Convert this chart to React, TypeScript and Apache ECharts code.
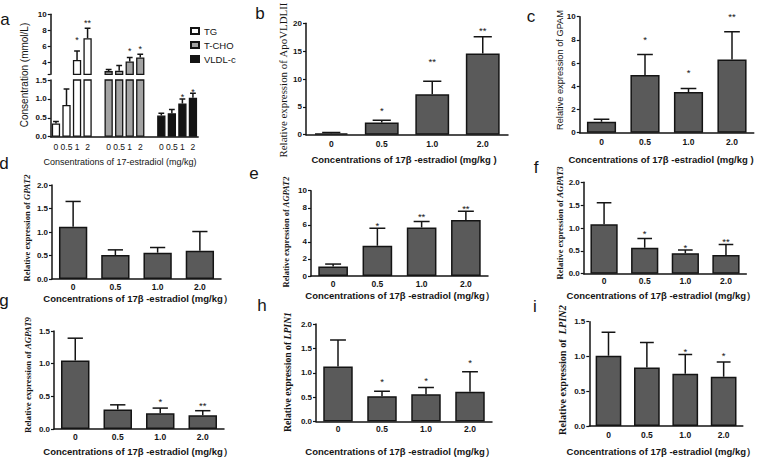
import React, { useEffect, useRef } from "react";
import * as echarts from "echarts";

const SANS = "'Liberation Sans', Arial, Helvetica, sans-serif";
const SERIF = "'Liberation Serif', 'Times New Roman', serif";
const INK = "#141414";
const BAR_GRAY = "#5a5a5a";

// ---------- panel a : serum lipids ----------
const aGroupNames = ["TG", "T-CHO", "VLDL-c"];
const aDoseLabels = ["0", "0.5", "1", "2"];
const tgMean = [0.35, 0.84, 4.3, 7.0];
const tgErr = [0.4, 1.26, 5.4, 8.25];
const tgStarAt = [null, null, 7.1, 9.2];
const tgSig = ["", "", "*", "**"];
const tchoMean = [2.9, 2.95, 4.1, 4.6];
const tchoErr = [3.1, 3.6, 4.6, 5.0];
const tchoStarAt = [null, null, 5.75, 5.95];
const tchoSig = ["", "", "*", "*"];
const vldlMean = [0.56, 0.62, 0.88, 1.03];
const vldlErr = [0.62, 0.72, 1.0, 1.15];
const vldlStarAt = [null, null, 1.12, 1.26];
const vldlSig = ["", "", "*", "*"];
const aTopLabels = [4, 6, 8, 10];
const aTopTicks = [2.5, 4, 6, 8, 10];
const aBottomLabels = [0, 0.5, 1.0, 1.5];
const aXTitle = "Consentrations of 17-estradiol (mg/kg)";
const aYTitle = "Consentration (mmol/L)";

// ---------- panels b-i : relative expression ----------
const doses = ["0", "0.5", "1.0", "2.0"];
const apoMean = [0.25, 2.2, 7.25, 14.6];
const apoErr = [0.4, 2.6, 9.6, 17.6];
const apoStarAt = [null, 4.8, 13.6, 19.3];
const apoSig = ["", "*", "**", "**"];
const gpamMean = [0.95, 4.97, 3.5, 6.32];
const gpamErr = [1.15, 6.75, 3.8, 8.7];
const gpamStarAt = [null, 8.3, 5.4, 10.3];
const gpamSig = ["", "*", "*", "**"];
const gpat2Mean = [1.11, 0.51, 0.56, 0.6];
const gpat2Err = [1.65, 0.62, 0.67, 1.01];
const gpat2StarAt = [null, null, null, null];
const gpat2Sig = ["", "", "", ""];
const agpat2Mean = [1.1, 3.55, 5.7, 6.56];
const agpat2Err = [1.4, 5.6, 6.4, 7.6];
const agpat2StarAt = [null, 6.25, 7.34, 8.3];
const agpat2Sig = ["", "*", "**", "**"];
const agpat3Mean = [1.08, 0.57, 0.45, 0.41];
const agpat3Err = [1.55, 0.77, 0.52, 0.64];
const agpat3StarAt = [null, 0.94, 0.63, 0.77];
const agpat3Sig = ["", "*", "*", "**"];
const agpat9Mean = [1.05, 0.3, 0.24, 0.21];
const agpat9Err = [1.39, 0.37, 0.32, 0.28];
const agpat9StarAt = [null, null, 0.46, 0.4];
const agpat9Sig = ["", "", "*", "**"];
const lpin1Mean = [1.13, 0.52, 0.56, 0.61];
const lpin1Err = [1.67, 0.62, 0.7, 1.02];
const lpin1StarAt = [null, 0.88, 0.9, 1.26];
const lpin1Sig = ["", "*", "*", "*"];
const lpin2Mean = [1.01, 0.84, 0.75, 0.71];
const lpin2Err = [1.35, 1.2, 1.03, 0.92];
const lpin2StarAt = [null, null, 1.11, 1.05];
const lpin2Sig = ["", "", "*", "*"];

const xTitleSpace = "Concentrations of 17β -estradiol (mg/kg )";
const xTitleWide = "Concentrations of 17β -estradiol (mg/kg）";

type Panel = {
  letter: string; mean: number[]; err: number[]; starAt: (number | null)[]; sig: string[];
  max: number; interval: number; dec: number; xTitle: string;
  yPrefix: string; gene: string; geneItalic: boolean; yFont: string; yBold: boolean; yLen: number;
  left: number; top: number; width: number; height: number;
  labelMargin: number; nameGap: number; dx: number;
  tx: number; ty: number; lx: number; ly: number;
};

const panels: Panel[] = [
  { letter: "b", mean: apoMean, err: apoErr, starAt: apoStarAt, sig: apoSig, max: 20, interval: 5, dec: 0, xTitle: xTitleSpace,
    yPrefix: "Relative expression of ", gene: "ApoVLDLII", geneItalic: false, yFont: SERIF, yBold: false, yLen: 155,
    left: 306, top: 23.3, width: 202, height: 111.4, labelMargin: 4.5, nameGap: 19.5, dx: -3, tx: 283, ty: 80, lx: 260, ly: 13 },
  { letter: "c", mean: gpamMean, err: gpamErr, starAt: gpamStarAt, sig: gpamSig, max: 10, interval: 2, dec: 0, xTitle: xTitleSpace,
    yPrefix: "Relative expression of ", gene: "GPAM", geneItalic: false, yFont: SANS, yBold: false, yLen: 120,
    left: 579.75, top: 16.7, width: 174, height: 116, labelMargin: 5, nameGap: 21.5, dx: -5.75, tx: 560, ty: 70, lx: 531, ly: 16 },
  { letter: "d", mean: gpat2Mean, err: gpat2Err, starAt: gpat2StarAt, sig: gpat2Sig, max: 2, interval: 0.5, dec: 1, xTitle: xTitleWide,
    yPrefix: "Relative expression of ", gene: "GPAT2", geneItalic: true, yFont: SERIF, yBold: true, yLen: 107,
    left: 52, top: 185, width: 169, height: 94, labelMargin: 3.5, nameGap: 14.5, dx: 1.5, tx: 27, ty: 228, lx: 4, ly: 163 },
  { letter: "e", mean: agpat2Mean, err: agpat2Err, starAt: agpat2StarAt, sig: agpat2Sig, max: 10, interval: 2, dec: 0, xTitle: xTitleWide,
    yPrefix: "Relative expression of ", gene: "AGPAT2", geneItalic: true, yFont: SERIF, yBold: true, yLen: 111,
    left: 311, top: 190.7, width: 177, height: 85.3, labelMargin: 3, nameGap: 14.5, dx: 0.5, tx: 286, ty: 232, lx: 254, ly: 173 },
  { letter: "f", mean: agpat3Mean, err: agpat3Err, starAt: agpat3StarAt, sig: agpat3Sig, max: 2, interval: 0.5, dec: 1, xTitle: xTitleWide,
    yPrefix: "Relative expression of ", gene: "AGPAT3", geneItalic: true, yFont: SERIF, yBold: true, yLen: 113,
    left: 583.75, top: 182.3, width: 170, height: 91.4, labelMargin: 3, nameGap: 17, dx: -3.75, tx: 560, ty: 223, lx: 536, ly: 167 },
  { letter: "g", mean: agpat9Mean, err: agpat9Err, starAt: agpat9StarAt, sig: agpat9Sig, max: 1.5, interval: 0.5, dec: 1, xTitle: xTitleWide,
    yPrefix: "Relative expression of ", gene: "AGPAT9", geneItalic: true, yFont: SERIF, yBold: true, yLen: 116,
    left: 54, top: 331, width: 170, height: 99.7, labelMargin: 3, nameGap: 17, dx: -1, tx: 28, ty: 375, lx: 4, ly: 300 },
  { letter: "h", mean: lpin1Mean, err: lpin1Err, starAt: lpin1StarAt, sig: lpin1Sig, max: 2, interval: 0.5, dec: 1, xTitle: xTitleWide,
    yPrefix: "Relative expression of ", gene: "LPIN1", geneItalic: true, yFont: SERIF, yBold: true, yLen: 120,
    left: 316, top: 324, width: 176, height: 101.7, labelMargin: 3, nameGap: 24.5, dx: -4, tx: 287, ty: 372, lx: 262, ly: 305 },
  { letter: "i", mean: lpin2Mean, err: lpin2Err, starAt: lpin2StarAt, sig: lpin2Sig, max: 1.5, interval: 0.5, dec: 1, xTitle: xTitleWide,
    yPrefix: "Relative expression of  ", gene: "LPIN2", geneItalic: true, yFont: SERIF, yBold: true, yLen: 130,
    left: 589.3, top: 321.7, width: 165, height: 105, labelMargin: 4, nameGap: 20, dx: -4.8, tx: 562, ty: 370, lx: 535, ly: 306 },
];

const axisLine = { show: true, onZero: false, lineStyle: { color: INK, width: 1.5 } };

let measureCtx: CanvasRenderingContext2D | null = null;
function textWidth(text: string, size: number, family: string, bold: boolean, italic: boolean) {
  if (!measureCtx) measureCtx = document.createElement("canvas").getContext("2d");
  if (!measureCtx) return text.length * size * 0.45;
  measureCtx.font = `${italic ? "italic " : ""}${bold ? "bold " : ""}${size}px ${family}`;
  return measureCtx.measureText(text).width;
}

function errorSeries(gi: number, items: { k: number; m: number; e: number }[], capFrac: number) {
  return {
    type: "custom", xAxisIndex: gi, yAxisIndex: gi, clip: true, silent: true, z: 4,
    data: items.map((it) => [it.k, it.m, it.e]),
    renderItem: (_p: any, api: any) => {
      const x = api.value(0);
      const p0 = api.coord([x, api.value(1)]);
      const p1 = api.coord([x, api.value(2)]);
      const half = (api.size([1, 0])[0] * capFrac) / 2;
      const st = { stroke: INK, lineWidth: 1.5 };
      return {
        type: "group",
        children: [
          { type: "line", shape: { x1: p0[0], y1: p0[1], x2: p1[0], y2: p1[1] }, style: st },
          { type: "line", shape: { x1: p1[0] - half, y1: p1[1], x2: p1[0] + half, y2: p1[1] }, style: st },
        ],
      };
    },
  };
}

function starSeries(gi: number, items: { k: number; v: number; s: string }[], size: number) {
  return {
    type: "custom", xAxisIndex: gi, yAxisIndex: gi, clip: false, silent: true, z: 5,
    data: items.map((it) => [it.k, it.v]),
    renderItem: (p: any, api: any) => {
      const pt = api.coord([api.value(0), api.value(1)]);
      return {
        type: "text", x: pt[0], y: pt[1] + size * 0.3,
        style: { text: items[p.dataIndex].s, textAlign: "center", textVerticalAlign: "middle", fontSize: size, fontFamily: SANS, fill: INK },
      };
    },
  };
}

function buildOption() {
  const grid: any[] = [];
  const xAxis: any[] = [];
  const yAxis: any[] = [];
  const series: any[] = [];
  const graphic: any[] = [];

  // ----- panel a (broken axis: two grids) -----
  const aSlots: string[] = [];
  aGroupNames.forEach((_, g) => {
    aDoseLabels.forEach((d) => aSlots.push(d));
    if (g < aGroupNames.length - 1) aSlots.push("");
  });
  const slotOf = (g: number, k: number) => g * (aDoseLabels.length + 1) + k;
  const aLeft = 50.7, aWidth = 147.5;
  grid.push({ left: aLeft, top: 14.3, width: aWidth, height: 60 });
  grid.push({ left: aLeft, top: 80, width: aWidth, height: 56.7 });
  xAxis.push({ type: "category", gridIndex: 0, data: aSlots, show: false });
  xAxis.push({
    type: "category", gridIndex: 1, data: aSlots, axisLine, axisTick: { show: false },
    axisLabel: { interval: 0, fontFamily: SANS, fontSize: 8.5, color: INK, margin: 5.5 },
    name: aXTitle, nameLocation: "middle", nameGap: 21,
    nameTextStyle: { fontFamily: SANS, fontSize: 9, color: INK, padding: [0, 9, 0, 0] },
  });
  const aYLabel = { fontFamily: SANS, fontSize: 8, fontWeight: "bold", color: INK, margin: 4 };
  yAxis.push({
    type: "value", gridIndex: 0, min: 2.5, max: 10, splitLine: { show: false }, axisLine,
    axisTick: { show: true, length: 3, customValues: aTopTicks, lineStyle: { color: INK, width: 1.2 } },
    axisLabel: { ...aYLabel, customValues: aTopLabels },
  });
  yAxis.push({
    type: "value", gridIndex: 1, min: 0, max: 1.5, splitLine: { show: false }, axisLine,
    axisTick: { show: true, length: 3, customValues: aBottomLabels, lineStyle: { color: INK, width: 1.2 } },
    axisLabel: { ...aYLabel, customValues: aBottomLabels, formatter: (v: number) => v.toFixed(1) },
  });
  const aSets = [
    { name: aGroupNames[0], mean: tgMean, err: tgErr, starAt: tgStarAt, sig: tgSig, color: "#ffffff" },
    { name: aGroupNames[1], mean: tchoMean, err: tchoErr, starAt: tchoStarAt, sig: tchoSig, color: "#a3a3a3" },
    { name: aGroupNames[2], mean: vldlMean, err: vldlErr, starAt: vldlStarAt, sig: vldlSig, color: "#141414" },
  ];
  aSets.forEach((set, g) => {
    const data = aSlots.map(() => null as number | null);
    set.mean.forEach((m, k) => (data[slotOf(g, k)] = m));
    const errItems = set.mean.map((m, k) => ({ k: slotOf(g, k), m, e: set.err[k] }));
    [0, 1].forEach((gi) => {
      series.push({
        type: "bar", name: set.name, xAxisIndex: gi, yAxisIndex: gi, data, barWidth: 8.3, barGap: "-100%",
        clip: true, silent: true, itemStyle: { color: set.color, borderColor: INK, borderWidth: 1.3 },
      });
      series.push(errorSeries(gi, errItems, 0.55));
    });
    const topStars: any[] = [];
    const botStars: any[] = [];
    set.starAt.forEach((v, k) => {
      if (v == null) return;
      (v > 1.5 ? topStars : botStars).push({ k: slotOf(g, k), v, s: set.sig[k] });
    });
    if (topStars.length) series.push(starSeries(0, topStars, 9));
    if (botStars.length) series.push(starSeries(1, botStars, 9));
  });
  graphic.push({
    type: "text", x: 24, y: 75, rotation: Math.PI / 2,
    style: { text: aYTitle, textAlign: "center", textVerticalAlign: "middle", fontFamily: SANS, fontSize: 10, fill: INK },
  });
  graphic.push({
    type: "text", x: 5, y: 19,
    style: { text: "a", textAlign: "center", textVerticalAlign: "middle", fontFamily: SANS, fontSize: 17, fill: INK },
  });

  // ----- panels b-i -----
  panels.forEach((p) => {
    const gi = grid.length;
    grid.push({ left: p.left, top: p.top, width: p.width, height: p.height });
    const pad = p.dx < 0 ? [0, -2 * p.dx, 0, 0] : [0, 0, 0, 2 * p.dx];
    xAxis.push({
      type: "category", gridIndex: gi, data: doses, axisLine, axisTick: { show: false },
      axisLabel: { interval: 0, fontFamily: SANS, fontWeight: "bold", fontSize: 8.5, color: INK, margin: p.labelMargin },
      name: p.xTitle, nameLocation: "middle", nameGap: p.nameGap,
      nameTextStyle: { fontFamily: SANS, fontWeight: "bold", fontSize: 9.5, color: INK, padding: pad },
    });
    yAxis.push({
      type: "value", gridIndex: gi, min: 0, max: p.max, interval: p.interval, splitLine: { show: false }, axisLine,
      axisTick: { show: true, length: 3, lineStyle: { color: INK, width: 1.2 } },
      axisLabel: { fontFamily: SANS, fontWeight: "bold", fontSize: 8, color: INK, margin: 4, formatter: (v: number) => v.toFixed(p.dec) },
    });
    series.push({
      type: "bar", xAxisIndex: gi, yAxisIndex: gi, data: p.mean, barWidth: "67%", silent: true,
      itemStyle: { color: BAR_GRAY, borderColor: INK, borderWidth: 1.5 },
    });
    series.push(errorSeries(gi, p.mean.map((m, k) => ({ k, m, e: p.err[k] })), 0.36));
    const stars: any[] = [];
    p.starAt.forEach((v, k) => { if (v != null) stars.push({ k, v, s: p.sig[k] }); });
    if (stars.length) series.push(starSeries(gi, stars, 9.5));

    // rotated y title: prefix (upright) + gene (italic), laid out bottom-to-top, sized to the measured length
    const base = 10;
    const w0 = textWidth(p.yPrefix, base, p.yFont, p.yBold, false) + textWidth(p.gene, base, p.yFont, p.yBold, p.geneItalic);
    const size = (base * p.yLen) / w0;
    const wp = textWidth(p.yPrefix, size, p.yFont, p.yBold, false);
    const wg = textWidth(p.gene, size, p.yFont, p.yBold, p.geneItalic);
    const startY = p.ty + (wp + wg) / 2;
    const weight = p.yBold ? "bold" : "normal";
    graphic.push({
      type: "text", x: p.tx, y: startY, rotation: Math.PI / 2,
      style: { text: p.yPrefix, textAlign: "left", textVerticalAlign: "middle", fontFamily: p.yFont, fontSize: size, fontWeight: weight, fill: INK },
    });
    graphic.push({
      type: "text", x: p.tx, y: startY - wp, rotation: Math.PI / 2,
      style: {
        text: p.gene, textAlign: "left", textVerticalAlign: "middle", fontFamily: p.yFont, fontSize: size, fontWeight: weight,
        fontStyle: p.geneItalic ? "italic" : "normal", fill: INK,
      },
    });
    graphic.push({
      type: "text", x: p.lx, y: p.ly,
      style: { text: p.letter, textAlign: "center", textVerticalAlign: "middle", fontFamily: SANS, fontSize: 17, fill: INK },
    });
  });

  return {
    animation: false,
    backgroundColor: "#ffffff",
    grid, xAxis, yAxis, series, graphic,
    legend: {
      data: aGroupNames, orient: "vertical", left: 185, top: 20, itemWidth: 8, itemHeight: 6, itemGap: 2,
      icon: "rect", selectedMode: false,
      textStyle: { fontFamily: SANS, fontSize: 9.5, color: INK, lineHeight: 12 },
    },
  };
}

export default function App() {
  const ref = useRef<HTMLDivElement>(null);
  useEffect(() => {
    const chart = echarts.init(ref.current!, null, { renderer: "svg" });
    chart.setOption(buildOption() as any);
    return () => chart.dispose();
  }, []);
  return (
    <div
      ref={ref}
      style={{ position: "absolute", left: 0, top: 0, width: 758, height: 457, background: "#fff" }}
    />
  );
}
